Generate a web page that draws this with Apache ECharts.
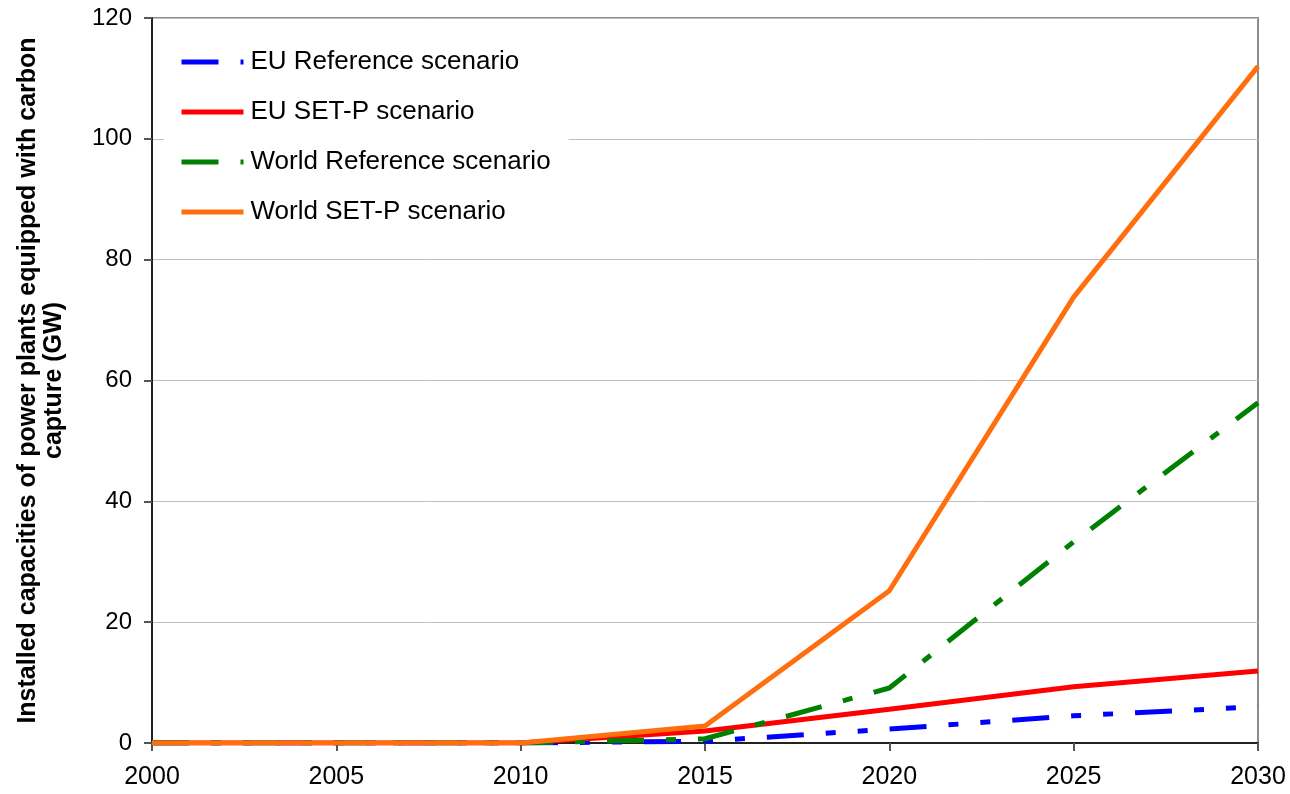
<!DOCTYPE html>
<html>
<head>
<meta charset="utf-8">
<script src="https://cdn.jsdelivr.net/npm/echarts@6/dist/echarts.min.js"></script>
<style>
  html, body { margin: 0; padding: 0; background: #fff; }
  #chart { width: 1290px; height: 794px; }
</style>
</head>
<body>
<div id="chart"></div>
<script>
// years on the x axis
const years = [2000, 2005, 2010, 2015, 2020, 2025, 2030]
const seriesNames = ['EU Reference scenario', 'EU SET-P scenario', 'World Reference scenario', 'World SET-P scenario']

// installed capacities (GW)
const euReference = [0, 0, 0, 0.3, 2.3, 4.5, 6.0]
const euSetP = [0, 0, 0, 2.0, 5.6, 9.3, 11.9]
const worldReference = [0, 0, 0, 0.7, 9.1, 33.3, 56.3]
const worldSetP = [0, 0, 0, 2.8, 25.2, 73.8, 112]

const yTicks = { min: 0, max: 120, interval: 20 }

const font = 'Liberation Sans, Arial, sans-serif'

const chart = echarts.init(document.getElementById('chart'))

function pairs(values) {
  return years.map((y, i) => [y, values[i]])
}

function lineSeries(name, values, color, dash) {
  return {
    name: name,
    type: 'line',
    data: pairs(values),
    symbol: 'none',
    animation: false,
    lineStyle: {
      color: color,
      width: 5,
      type: dash || 'solid',
      cap: 'butt'
    },
    itemStyle: { color: color }
  }
}

const option = {
  backgroundColor: '#fff',
  animation: false,
  grid: {
    left: 152,
    right: 32,
    top: 18,
    bottom: 51,
    containLabel: false,
    outerBoundsMode: 'none',
    show: true,
    borderColor: '#8c8c8c',
    borderWidth: 2,
    backgroundColor: 'transparent'
  },
  legend: {
    orient: 'vertical',
    left: 164,
    top: 39,
    padding: [10, 18, 10, 15],
    itemWidth: 62,
    itemHeight: 20,
    itemGap: 24,
    backgroundColor: '#fff',
    data: seriesNames,
    itemStyle: { opacity: 0 },
    lineStyle: { width: 5 },
    textStyle: {
      fontFamily: font,
      fontSize: 26,
      color: '#000',
      padding: [0, 0, 0, 2]
    }
  },
  xAxis: {
    type: 'value',
    min: 2000,
    max: 2030,
    interval: 5,
    axisLine: { lineStyle: { color: '#222', width: 2 } },
    axisTick: { show: true, length: 8, lineStyle: { color: '#555', width: 2 } },
    splitLine: { show: false },
    axisLabel: {
      fontFamily: font,
      fontSize: 25,
      color: '#000',
      margin: 22,
      formatter: v => String(v)
    }
  },
  yAxis: {
    type: 'value',
    min: yTicks.min,
    max: yTicks.max,
    interval: yTicks.interval,
    name: 'Installed capacities of power plants equipped with carbon\ncapture (GW)',
    nameLocation: 'middle',
    nameGap: 85,
    nameTextStyle: {
      fontFamily: font,
      fontSize: 25,
      fontWeight: 'bold',
      color: '#000',
      lineHeight: 26,
      align: 'center'
    },
    axisLine: { show: true, lineStyle: { color: '#222', width: 2 } },
    axisTick: { show: true, length: 8, lineStyle: { color: '#555', width: 2 } },
    splitLine: { show: true, lineStyle: { color: '#c0c0c0', width: 1 } },
    axisLabel: {
      fontFamily: font,
      fontSize: 24,
      color: '#000',
      margin: 20
    }
  },
  series: [
    lineSeries(seriesNames[0], euReference, '#0000ff', [37, 22, 10, 22, 10, 22]),
    lineSeries(seriesNames[1], euSetP, '#ff0000'),
    lineSeries(seriesNames[2], worldReference, '#008000', [37, 22, 10, 22]),
    lineSeries(seriesNames[3], worldSetP, '#ff6f0f')
  ]
}

chart.setOption(option)
</script>
</body>
</html>
